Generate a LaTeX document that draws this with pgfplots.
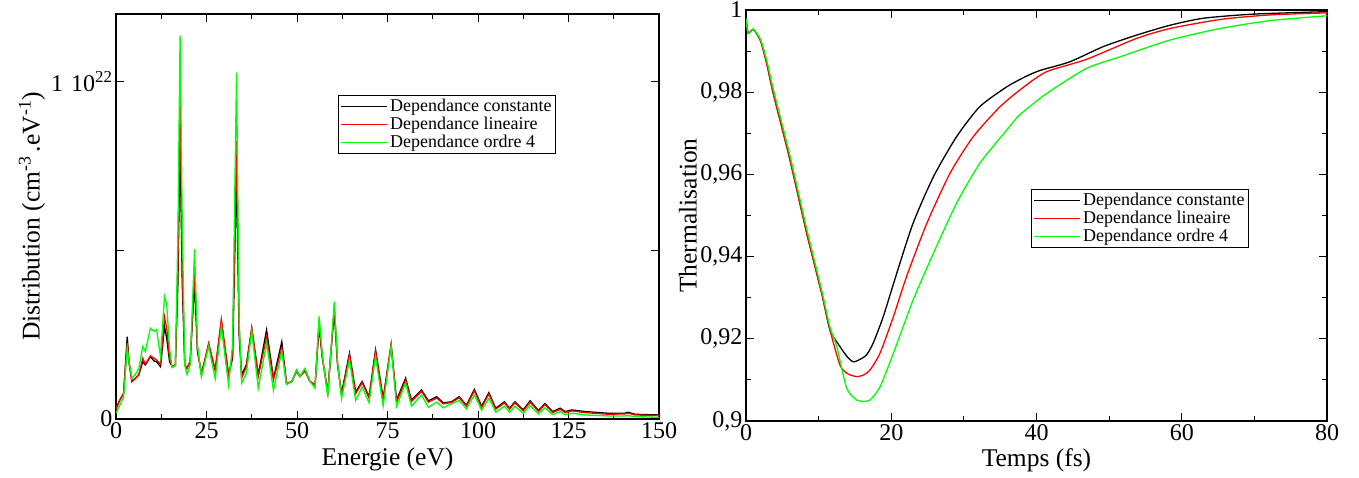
\documentclass[border=0pt]{standalone}
\usepackage{fontspec}
\setmainfont{Liberation Serif}
\usepackage{pgfplots}
\pgfplotsset{compat=1.18}
\usepackage{pgfplotstable}

% Distribution, in units of 10^21 cm^-3 eV^-1
\pgfplotstableread{
E c l o
0.0 0.30 0.30 0.17
1.0 0.55 0.55 0.40
2.1 0.76 0.76 0.65
3.1 2.44 2.25 2.10
3.6 1.70 1.65 1.70
4.4 1.11 1.11 1.20
5.5 1.22 1.22 1.35
6.3 1.31 1.31 1.50
7.4 1.70 1.80 2.15
8.1 1.60 1.62 2.00
9.5 1.85 1.87 2.69
10.5 1.72 1.80 2.60
11.2 1.70 1.75 2.65
12.3 1.55 1.62 1.85
13.4 2.74 3.02 3.63
14.0 2.40 2.70 3.40
14.8 1.70 1.80 2.10
15.5 1.55 1.55 1.52
16.4 1.60 1.60 1.58
17.1 4.00 4.50 5.50
17.7 8.20 9.52 11.37
18.3 4.00 4.50 5.80
19.0 1.60 1.60 1.60
19.6 1.50 1.50 1.32
20.5 1.70 1.72 1.60
21.7 4.03 4.42 5.03
22.5 2.00 2.10 2.20
23.6 1.35 1.30 1.25
25.6 2.20 2.25 2.15
27.4 1.45 1.45 1.19
29.1 2.89 2.95 2.74
31.1 1.31 1.28 1.01
32.2 1.80 1.90 2.20
33.3 7.29 8.23 10.26
34.0 2.50 2.80 3.00
34.7 1.31 1.21 1.06
36.0 1.60 1.55 1.35
37.5 2.69 2.69 2.60
39.3 1.31 1.26 0.91
41.6 2.64 2.44 2.25
43.5 1.20 1.16 0.85
45.8 2.29 2.10 2.00
47.1 1.06 1.06 1.02
48.5 1.10 1.10 1.10
49.9 1.45 1.40 1.45
50.8 1.26 1.26 1.26
52.2 1.45 1.42 1.50
53.6 1.11 1.11 1.11
55.0 1.01 1.01 0.91
56.1 2.74 2.89 3.04
57.0 1.80 1.85 1.90
58.5 0.81 0.76 0.66
60.3 3.18 3.33 3.48
61.2 1.60 1.65 1.70
62.3 0.76 0.71 0.60
64.5 1.95 1.90 1.75
66.2 0.80 0.75 0.55
68.0 1.11 1.08 0.95
69.9 0.66 0.62 0.48
71.7 2.05 2.00 1.85
73.8 0.61 0.55 0.39
76.0 2.20 2.20 2.15
77.5 0.56 0.50 0.37
80.0 1.21 1.15 1.06
81.6 0.56 0.52 0.38
84.4 0.86 0.82 0.71
86.3 0.54 0.50 0.35
88.6 0.66 0.62 0.50
90.4 0.48 0.45 0.33
92.7 0.51 0.49 0.45
94.8 0.66 0.63 0.55
96.8 0.41 0.38 0.30
99.0 0.88 0.84 0.71
101.0 0.38 0.34 0.26
103.0 0.78 0.74 0.61
104.9 0.32 0.29 0.20
107.3 0.51 0.48 0.38
108.7 0.32 0.29 0.20
110.2 0.51 0.48 0.38
112.5 0.27 0.24 0.17
114.4 0.54 0.50 0.40
116.7 0.25 0.22 0.15
118.5 0.46 0.43 0.33
120.6 0.22 0.19 0.13
122.7 0.32 0.29 0.22
124.1 0.22 0.19 0.13
125.9 0.27 0.24 0.17
129.6 0.22 0.19 0.12
136.0 0.17 0.14 0.09
140.5 0.17 0.15 0.09
141.5 0.20 0.17 0.10
143.4 0.14 0.12 0.07
149.8 0.12 0.10 0.05
150.0 0.12 0.10 0.05
}\dist

\pgfplotstableread{
t v
0 0.998
0.3 0.9943
1.0 0.9953
2.0 0.9925
2.85 0.987
3.76 0.9797
6.06 0.9635
8.36 0.9457
10.42 0.9311
11.57 0.9221
12.94 0.9181
14.0 0.9155
14.78 0.9144
15.7 0.9150
16.6 0.9161
17.5 0.9189
18.9 0.9254
20.75 0.9359
23.0 0.9481
25.8 0.9594
29.0 0.9692
32.2 0.9765
35.9 0.9813
38.5 0.9838
40.5 0.9853
44.6 0.9874
49.2 0.9911
53.8 0.9939
58.4 0.9963
63.0 0.9980
69.9 0.9990
80 0.9996
}\thc

\pgfplotstableread{
t v
0 0.998
0.3 0.9943
1.0 0.9953
2.0 0.9925
2.85 0.987
3.76 0.9797
6.06 0.9635
8.36 0.9457
10.42 0.9311
11.57 0.9221
12.94 0.9136
14.0 0.9115
15.24 0.9108
16.2 0.9112
17.07 0.9124
18.45 0.9165
20.3 0.9254
22.1 0.9351
24.9 0.9481
28.1 0.9603
31.3 0.9692
35.0 0.9765
38.2 0.9812
41.4 0.9850
46.9 0.9880
53.8 0.9931
58.4 0.9955
65.3 0.9977
72.1 0.9988
80 0.9993
}\thl

\pgfplotstableread{
t v
0 0.998
0.3 0.9943
1.0 0.9953
2.0 0.9928
2.85 0.9878
3.76 0.9807
6.06 0.9645
8.36 0.9467
10.42 0.9318
11.57 0.9228
12.5 0.9181
13.86 0.9080
15.24 0.9051
16.2 0.9048
17.07 0.9051
18.45 0.9083
20.3 0.9165
23.0 0.9294
25.8 0.9408
29.0 0.9530
32.2 0.9627
35.9 0.9708
37.7 0.9745
41.4 0.9797
46.9 0.9858
51.5 0.9886
58.4 0.9927
65.3 0.9955
72.1 0.9974
80 0.9986
}\tho

\begin{document}
\begin{tikzpicture}
\path[use as bounding box] (0pt,0pt) rectangle (1359pt,477pt);
\pgfplotsset{
  common/.style={
    scale only axis,
    axis line style={line width=1.2pt},
    every tick/.style={line width=1pt, black},
    major tick length=8pt, minor tick length=5pt,
    tick align=inside,
    ticklabel style={font=\fontsize{24}{28}\selectfont},
    label style={font=\fontsize{25.5}{30}\selectfont},
    /pgf/number format/assume math mode=true,
    legend cell align=left,
    legend style={font=\fontsize{18}{22}\selectfont, draw=black, line width=1pt, inner sep=2pt},
    legend image code/.code={\draw[##1, line width=1.6pt] (0pt,0pt) -- (46pt,0pt);},
    every axis plot/.append style={line width=1.3pt},
  }
}
\begin{axis}[common,
  at={(116pt,58pt)}, anchor=south west,
  width=543pt, height=405pt,
  xmin=0, xmax=150, ymin=0, ymax=12,
  xtick={0,25,...,150}, minor x tick num=1,
  ytick={0,5,10}, yticklabels={0,,{1\,\,10\textsuperscript{22}}},
  scaled y ticks=false,
  xlabel={Energie (eV)},
  ylabel={Distribution (cm\textsuperscript{-3}\,.eV\textsuperscript{-1})},
  every axis x label/.append style={at={(axis description cs:0.5,-0.1)}, anchor=center},
  every axis y label/.append style={at={(axis description cs:-0.155,0.5)}, anchor=center},
  legend style={at={(axis description cs:0.409,0.8)}, anchor=north west},
]
\addplot[black] table[x=E, y=c] {\dist};
\addplot[red] table[x=E, y=l] {\dist};
\addplot[green] table[x=E, y=o] {\dist};
\legend{Dependance constante, Dependance lineaire, Dependance ordre 4}
\end{axis}

\begin{axis}[common,
  at={(746pt,56pt)}, anchor=south west,
  width=581pt, height=411pt,
  xmin=0, xmax=80, ymin=0.9, ymax=1,
  xtick={0,20,40,60,80}, minor x tick num=1,
  ytick={0.9,0.92,0.94,0.96,0.98,1}, minor y tick num=1,
  yticklabel style={/pgf/number format/.cd, use comma, fixed, precision=2},
  xlabel={Temps (fs)}, ylabel={Thermalisation},
  every axis x label/.append style={at={(axis description cs:0.5,-0.095)}, anchor=center},
  every axis y label/.append style={at={(axis description cs:-0.1,0.5)}, anchor=center},
  legend style={at={(axis description cs:0.4905,0.5645)}, anchor=north west},
]
\addplot[black, smooth, tension=0.4] table[x=t, y=v] {\thc};
\addplot[red, smooth, tension=0.4] table[x=t, y=v] {\thl};
\addplot[green, smooth, tension=0.4] table[x=t, y=v] {\tho};
\legend{Dependance constante, Dependance lineaire, Dependance ordre 4}
\end{axis}
\end{tikzpicture}
\end{document}
